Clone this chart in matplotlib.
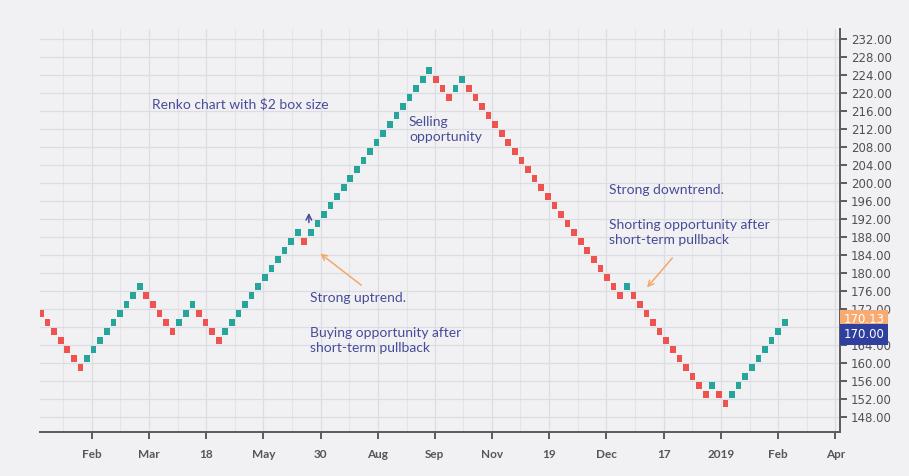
import numpy as np
import matplotlib
matplotlib.use('Agg')
import matplotlib.pyplot as plt
from matplotlib.ticker import FormatStrFormatter, FixedLocator

# Renko bricks, $2 box size: low price of every brick, left to right
brick_low = [170, 168, 166, 164, 162, 160, 158,
             160, 162, 164, 166, 168, 170, 172, 174, 176,
             174, 172, 170, 168, 166,
             168, 170, 172,
             170, 168, 166, 164,
             166, 168, 170, 172, 174, 176, 178, 180, 182, 184, 186, 188,
             186,
             188, 190, 192, 194, 196, 198, 200, 202, 204, 206, 208, 210,
             212, 214, 216, 218, 220, 222, 224,
             222, 220, 218,
             220, 222,
             220, 218, 216, 214, 212, 210, 208, 206, 204, 202, 200, 198,
             196, 194, 192, 190, 188, 186, 184, 182, 180, 178, 176, 174,
             176,
             174, 172, 170, 168, 166, 164, 162, 160, 158, 156, 154, 152,
             154,
             152, 150,
             152, 154, 156, 158, 160, 162, 164, 166, 168]
box_size = 2

# x axis labels and where they sit (in brick units)
tick_pos = [7.7, 16.4, 25.1, 33.8, 42.5, 51.2, 59.8, 68.5, 77.2, 85.9,
            94.6, 103.3, 112.0, 120.7]
tick_labels = ['Feb', 'Mar', '18', 'May', '30', 'Aug', 'Sep', 'Nov', '19',
               'Dec', '17', '2019', 'Feb', 'Apr']
price_ticks = list(range(148, 233, 4))

last_price = 170.13
close_price = 170.00

up_col = '#26a69a'
down_col = '#ef5350'
text_col = '#474c98'
arrow_col = '#f4a868'
bg = '#f1f1f4'
axis_col = '#5a5a5e'

brick_low = np.array(brick_low)
x = np.arange(len(brick_low))
colors = [down_col] + [up_col if brick_low[i] > brick_low[i - 1] else down_col
                       for i in range(1, len(brick_low))]

fig = plt.figure(figsize=(9.09, 4.76), dpi=100, facecolor=bg)
ax = fig.add_axes([40 / 909, 44 / 476, 800 / 909, 403 / 476], facecolor=bg)

# bricks drawn a bit smaller than the box so they look separated
ax.bar(x, box_size * 0.8, bottom=brick_low + box_size * 0.1, width=0.86,
       color=colors, linewidth=0, zorder=3)

ax.set_xlim(-0.15, 121.4)
ax.set_ylim(144.6, 234.3)

ax.set_xticks(tick_pos)
ax.set_xticklabels(tick_labels)
ax.xaxis.set_minor_locator(FixedLocator(
    [p + 4.35 for p in tick_pos] + [tick_pos[0] - 4.35]))
ax.yaxis.tick_right()
ax.set_yticks(price_ticks)
ax.yaxis.set_major_formatter(FormatStrFormatter('%.2f'))

for s in ['top', 'left']:
    ax.spines[s].set_visible(False)
for s in ['right', 'bottom']:
    ax.spines[s].set_color(axis_col)
    ax.spines[s].set_linewidth(1.4)

ax.tick_params(axis='x', which='major', length=5, width=1.4, color=axis_col,
               labelcolor='#55555a', labelsize=8.5, pad=7)
ax.tick_params(axis='x', which='minor', length=0)
ax.tick_params(axis='y', length=5, width=1.4, color=axis_col,
               labelcolor='#505055', labelsize=8.5, pad=3)
for lab in ax.get_xticklabels():
    lab.set_fontfamily('Lato')
    lab.set_fontweight('bold')
# the 168 label sits fully under the price tags
for val, lab in zip(price_ticks, ax.get_yticklabels()):
    if val == 168:
        lab.set_visible(False)

ax.grid(True, which='major', color='#dcdce3', linewidth=0.9, zorder=0)
ax.grid(True, which='minor', axis='x', color='#e3e3e9', linewidth=0.8, zorder=0)
ax.set_axisbelow(True)

# annotations
font = dict(family='Lato', fontsize=10, color=text_col)
ax.text(16.9, 217.6, 'Renko chart with $2 box size', va='center', ha='left', **font)
ax.text(55.9, 212.0, 'Selling\nopportunity', va='center', ha='left',
        linespacing=1.3, **font)
ax.text(86.3, 198.5, 'Strong downtrend.', va='center', ha='left', **font)
ax.text(86.3, 189.0, 'Shorting opportunity after\nshort-term pullback',
        va='center', ha='left', linespacing=1.3, **font)
ax.text(40.9, 174.4, 'Strong uptrend.', va='center', ha='left', **font)
ax.text(40.9, 165.0, 'Buying opportunity after\nshort-term pullback',
        va='center', ha='left', linespacing=1.3, **font)

ax.annotate('', xy=(42.1, 184.7), xytext=(49.0, 176.9),
            arrowprops=dict(arrowstyle='->', color=arrow_col, lw=1.1))
ax.annotate('', xy=(91.8, 176.3), xytext=(96.2, 183.8),
            arrowprops=dict(arrowstyle='->', color=arrow_col, lw=1.1))
ax.annotate('', xy=(40.7, 194.0), xytext=(40.7, 190.6),
            arrowprops=dict(arrowstyle='->', color=text_col, lw=1.1))

# last price tags on the price scale
ytr = ax.get_yaxis_transform()
ax.text(1.004, 169.6, f'{last_price:.2f}', transform=ytr, va='center', ha='left',
        fontsize=8.5, color='white', clip_on=False, zorder=5,
        bbox=dict(boxstyle='square,pad=0.3', fc='#f7ab72', ec='none'))
ax.text(1.004, 166.3, f'{close_price:.2f}', transform=ytr, va='center', ha='left',
        fontsize=8.5, color='white', clip_on=False, zorder=5,
        bbox=dict(boxstyle='square,pad=0.3', fc='#2e3f9e', ec='none'))

fig.savefig('out.png', dpi=100, facecolor=bg)
